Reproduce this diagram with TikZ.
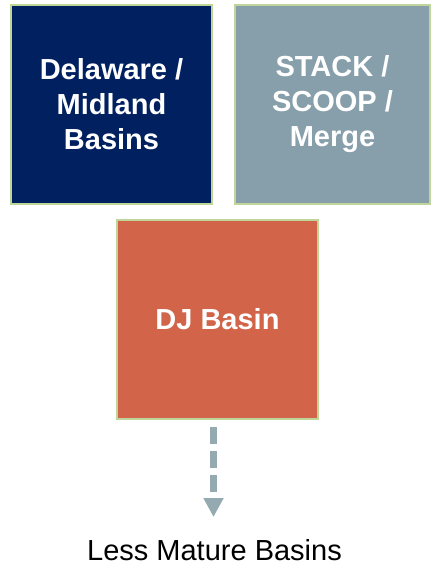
\documentclass[tikz,border=0pt]{standalone}
\usepackage{fontspec}
\setmainfont{Liberation Sans}
\usetikzlibrary{arrows.meta}
\definecolor{navy}{HTML}{002060}
\definecolor{slate}{HTML}{879FAB}
\definecolor{rust}{HTML}{D2644A}
\definecolor{rim}{HTML}{C0D59A}
\definecolor{arrowgrey}{HTML}{95A9B1}

\begin{document}
\begin{tikzpicture}[x=1pt,y=-1pt,basin_node/.style={rectangle,draw=rim,line width=2pt,minimum width=201pt,minimum height=199pt,inner sep=0pt,text=white,align=center,font=\fontsize{29}{35}\selectfont\bfseries}]
		\useasboundingbox (0,0) rectangle (431,565);

		\node[basin_node,fill=navy] (1) at (111.5,104.5) {Delaware /\\Midland\\Basins};
		\node[basin_node,fill=slate,minimum width=195pt] (2) at (332.5,104.5) {STACK /\\SCOOP /\\Merge};
		\node[basin_node,fill=rust] (3) at (217.5,319.5) {DJ Basin};
		\coordinate (4) at (213.5,517);
		\node[font=\fontsize{29}{34}\selectfont] (5) at (214.5,550) {Less Mature Basins};

		\draw[arrowgrey,line width=7pt,dash pattern=on 17pt off 7pt,shorten <=7pt,-{Triangle[width=19pt,length=19pt]}] (3.south -| 4) -- (4);
		\end{tikzpicture}
\end{document}
